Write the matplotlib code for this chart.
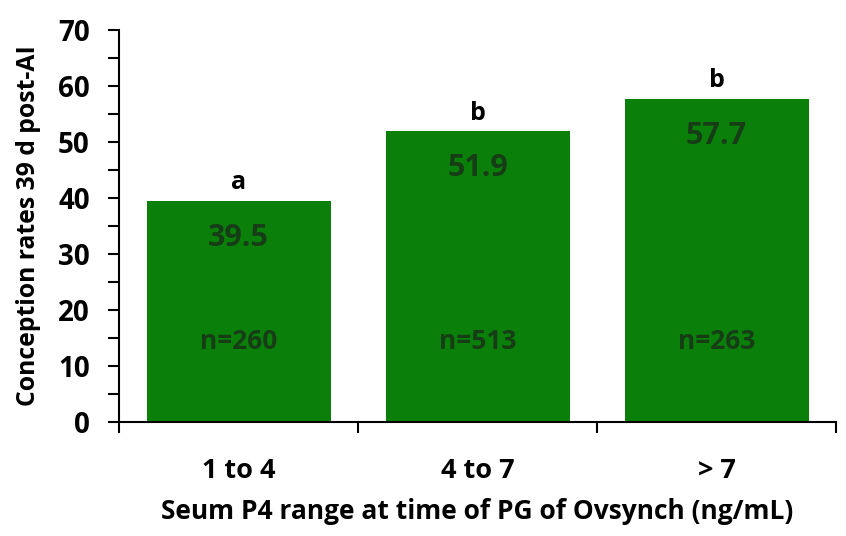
import numpy as np
import matplotlib
matplotlib.use("Agg")
import matplotlib.pyplot as plt
from matplotlib.ticker import MultipleLocator

categories = ["1 to 4", "4 to 7", "> 7"]
rates = [39.5, 51.9, 57.7]
n_labels = ["n=260", "n=513", "n=263"]
letters = ["a", "b", "b"]

plt.rcParams['font.family'] = ['Open Sans', 'DejaVu Sans']
plt.rcParams['font.weight'] = 'bold'

fig = plt.figure(figsize=(8.46, 5.36), dpi=100)
ax = fig.add_axes([0.1407, 0.2127, 0.8475, 0.7313])

x = np.arange(len(categories))
bars = ax.bar(x, rates, width=0.77, color="#0a800a", zorder=2)

for xi, r, n, l in zip(x, rates, n_labels, letters):
    ax.text(xi, r - 6.6, f"{r:.1f}", ha="center", va="center",
            fontsize=22, fontweight="bold", color="#173d17", zorder=3)
    ax.text(xi, 14.3, n, ha="center", va="center",
            fontsize=19, fontweight="bold", color="#173d17", zorder=3)
    ax.text(xi, r + 3.2, l, ha="center", va="center",
            fontsize=18, fontweight="bold", color="black")

ax.set_xlim(-0.5, 2.5)
ax.set_ylim(0, 70)
ax.yaxis.set_major_locator(MultipleLocator(10))
ax.yaxis.set_minor_locator(MultipleLocator(5))
ax.tick_params(axis="y", which="both", direction="out", length=8, width=1.5,
               labelsize=20, pad=13)

ax.set_xticks(x)
ax.set_xticklabels(categories)
ax.set_xticks([-0.5, 0.5, 1.5, 2.5], minor=True)
ax.tick_params(axis="x", which="major", length=0, labelsize=19.5, pad=26)
ax.tick_params(axis="x", which="minor", direction="out", length=8, width=1.5)

for s in ["top", "right"]:
    ax.spines[s].set_visible(False)
for s in ["left", "bottom"]:
    ax.spines[s].set_linewidth(1.5)

ax.set_ylabel("Conception rates 39 d post-AI", fontsize=17.8, fontweight="bold", labelpad=12)
ax.set_xlabel("Seum P4 range at time of PG of Ovsynch (ng/mL)", fontsize=19,
              fontweight="bold", labelpad=10)

fig.savefig("out.png", dpi=100)
